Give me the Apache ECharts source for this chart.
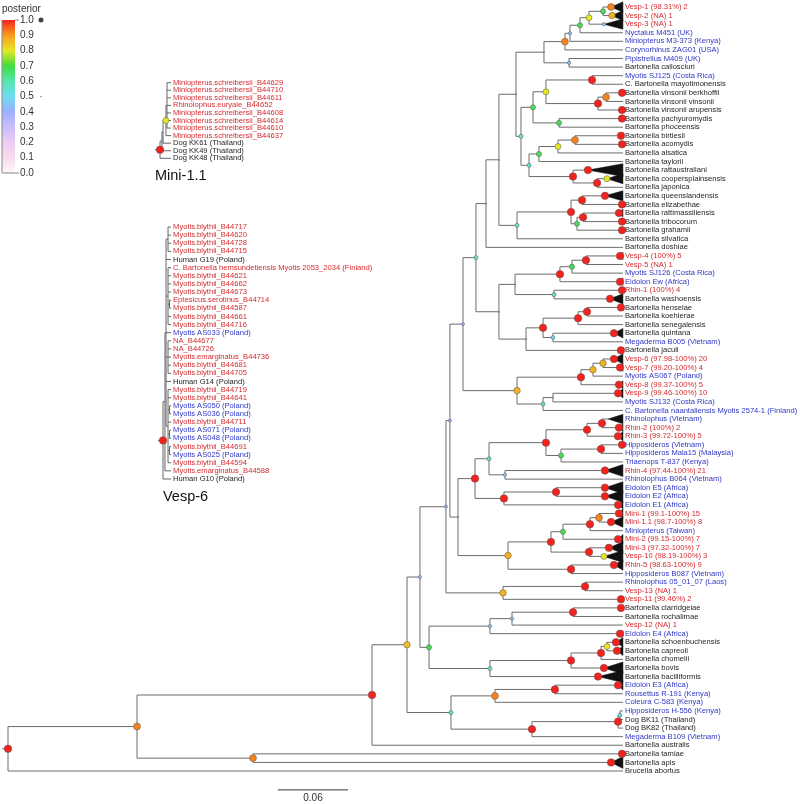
<!DOCTYPE html>
<html><head><meta charset="utf-8">
<script src="https://cdn.jsdelivr.net/npm/echarts@6/dist/echarts.min.js"></script>
<style>html,body{margin:0;padding:0;background:#fff}#c{width:800px;height:804px}</style>
</head><body><div id="c"></div>
<script>
// ---------------- DATA ----------------
const leafNames = [
"Vesp-1 (98.31%) 2","Vesp-2 (NA) 1","Vesp-3 (NA) 1","Nyctalus M451 (UK)","Miniopterus M3-373 (Kenya)",
"Corynorhinus ZAG01 (USA)","Pipistrellus M409 (UK)","Bartonella callosciuri","Myotis SJ125 (Costa Rica)","C. Bartonella mayotimonensis",
"Bartonella vinsonii berkhoffii","Bartonella vinsonii vinsonii","Bartonella vinsonii arupensis","Bartonella pachyuromydis","Bartonella phoceensis",
"Bartonella birtlesii","Bartonella acomydis","Bartonella alsatica","Bartonella taylorii","Bartonella rattaustraliani",
"Bartonella coopersplainsensis","Bartonella japonica","Bartonella queenslandensis","Bartonella elizabethae","Bartonella rattimassiliensis",
"Bartonella tribocorum","Bartonella grahamii","Bartonella silvatica","Bartonella doshiae","Vesp-4 (100%) 5",
"Vesp-5 (NA) 1","Myotis SJ126 (Costa Rica)","Eidolon Ew (Africa)","Rhin-1 (100%) 4","Bartonella washoensis",
"Bartonella henselae","Bartonella koehlerae","Bartonella senegalensis","Bartonella quintana","Megaderma B005 (Vietnam)",
"Bartonella jaculi","Vesp-6 (97.98-100%) 20","Vesp-7 (99.20-100%) 4","Myotis AS067 (Poland)","Vesp-8 (99.37-100%) 5",
"Vesp-9 (99.46-100%) 10","Myotis SJ132 (Costa Rica)","C. Bartonella naantaliensis Myotis 2574-1 (Finland)","Rhinolophus (Vietnam)","Rhin-2 (100%) 2",
"Rhin-3 (99.72-100%) 5","Hipposideros (Vietnam)","Hipposideros Mala15 (Malaysia)","Triaenops T-837 (Kenya)","Rhin-4 (97.44-100%) 21",
"Rhinolophus B064 (Vietnam)","Eidolon E5 (Africa)","Eidolon E2 (Africa)","Eidolon E1 (Africa)","Mini-1 (99.1-100%) 15",
"Mini-1.1 (98.7-100%) 8","Miniopterus (Taiwan)","Mini-2 (99.15-100%) 7","Mini-3 (97.32-100%) 7","Vesp-10 (98.19-100%) 3",
"Rhin-5 (98.63-100%) 9","Hipposideros B087 (Vietnam)","Rhinolophus 05_01_07 (Laos)","Vesp-13 (NA) 1","Vesp-11 (99.46%) 2",
"Bartonella clarridgeiae","Bartonella rochalimae","Vesp-12 (NA) 1","Eidolon E4 (Africa)","Bartonella schoenbuchensis",
"Bartonella capreoli","Bartonella chomelii","Bartonella bovis","Bartonella bacilliformis","Eidolon E3 (Africa)",
"Rousettus R-191 (Kenya)","Coleura C-583 (Kenya)","Hipposideros H-556 (Kenya)","Dog BK11 (Thailand)","Dog BK82 (Thailand)",
"Megaderma B109 (Vietnam)","Bartonella australis","Bartonella tamiae","Bartonella apis","Brucella abortus"];
// r = new genogroup, b = bat-derived reference, k = other reference
const leafGroup = "rrrbbbbkbk"+"kkkkkkkkkk"+"kkkkkkkkkr"+"rbbrkkkkkb"+"krrbrrbbbr"+"rbbbrbbbbr"+"rbrrrrbbrr"+"kkrbkkkkkb"+"bbbkkbkkkk";

// tree: [depth, posterior, children...]; integer = leaf index
const mainTree =
[0, 1,
 [0.1106, 0.92,
  [0.3120, 1,
   [0.3420, 0.85,
    [0.3531, 0.42,
     [0.3754, 0.42,
      [0.3788, 0.4,
       [0.3900, 0.4,
        [0.4011, 0.55,
         [0.4097, 0.2,
          [0.4208, 0.2,
           [0.4354, 0.2,
            [0.4594, 0.2,
             [0.4774, 0.92,
              [0.4817, 0.45,
               [0.4903, 0.68,
                [0.4980, 0.8, [0.5100, 0.68, 0, 1], 2],
                3],
               4],
              5],
             [0.4809, 0.45, 6, 7]],
            [0.4397, 0.55,
             [0.4500, 0.68,
              [0.4611, 0.8,
               [0.5006, 1, 8, 9],
               [0.5057, 1, [0.5126, 0.92, 10, 11], 12]],
              [0.4723, 0.68, 13, 14]],
             [0.4466, 0.55,
              [0.4551, 0.68,
               [0.4714, 0.8, [0.4860, 0.92, 15, 16], 17],
               18],
              [0.4843, 1, 19, [0.5049, 1, 20, 21]]]]],
           [0.4363, 0.55,
            [0.4826, 1,
             [0.4920, 1, 22, 23],
             [0.4877, 0.68, [0.4929, 1, 24, 25], 26]],
            27]],
          28],
         [0.4208, 0.2,
          [0.4346, 0.2,
           [0.4731, 1,
            [0.4834, 0.68, [0.4954, 1, 29, 30], 31],
            32],
           [0.4680, 0.55, 33, 34]],
          [0.4440, 0.2,
           [0.4586, 1,
            [0.4886, 1, [0.4963, 1, 35, 36], 37],
            [0.4671, 0.5, 38, 39]],
           40]]],
        [0.4363, 0.87,
         [0.4911, 1,
          [0.5014, 0.87, [0.5100, 0.87, 41, 42], 43],
          44],
         [0.4586, 0.55, [0.4671, 0.2, 45, 46], 47]]],
       [0.3857, 0.2,
        [0.4003, 1,
         [0.4123, 0.55,
          [0.4611, 1,
           [0.4963, 1, [0.5091, 1, 48, 49], 50],
           [0.4740, 0.68, [0.5083, 1, 51, 52], 53]],
          [0.4260, 0.45, 54, 55]],
         [0.4251, 1, [0.4697, 1, 56, 57], 58]],
        [0.4286, 0.87,
         [0.4654, 1,
          [0.4757, 0.68, [0.4988, 1, [0.5066, 0.92, 59, 60], 61], 62],
          [0.4980, 1, 63, 64]],
         [0.4826, 1, 65, 66]]]],
      [0.4243, 0.87, [0.4946, 1, 67, 68], 69]],
     [0.3609, 0.68,
      [0.4131, 0.45, [0.4320, 0.45, [0.4843, 1, 70, 71], 72], 73],
      [0.4131, 0.55,
       [0.4826, 1, [0.5083, 1, [0.5134, 0.8, 74, 75], 76], 77],
       78]]],
    [0.3797, 0.55,
     [0.4174, 0.92, [0.4688, 1, 79, 80], 81],
     [0.4491, 1, [0.5229, 1, [0.5246, 0.5, 82, 83], 84], 85]]],
   86],
  [0.2100, 0.92, 87, 88]],
 89];
const mainTipDepth = 0.5271;
const mainRootStub = -0.0051;

// collapsed clades: [leaf, clade depth, posterior, clade spread (rows)]
const collapsed = [
[0,0.5169,0.92,0.6],[1,0.5177,0.87,0.6],[2,0.5108,0.45,0.6],[10,0.5263,1,0.35],[12,0.5263,1,0.35],
[13,0.5263,1,0.35],[15,0.5254,1,0.35],[16,0.5263,1,0.35],[19,0.4971,1,0.75],[20,0.5134,0.8,0.6],
[22,0.5117,1,0.6],[23,0.5263,1,0.35],[24,0.5237,1,0.45],[25,0.5263,1,0.35],[26,0.5263,1,0.35],
[29,0.5246,1,0.45],[32,0.5246,1,0.45],[33,0.5263,1,0.35],[34,0.5160,1,0.6],[35,0.5254,1,0.35],
[38,0.5194,1,0.55],[40,0.5254,1,0.35],[41,0.5194,1,0.6],[42,0.5246,1,0.45],[44,0.5237,1,0.45],
[45,0.5229,1,0.55],[48,0.5143,null,0.55],[49,0.5237,1,0.45],[50,0.5229,1,0.55],[51,0.5263,1,0.35],
[54,0.5117,1,0.7],[56,0.5117,1,0.7],[57,0.5117,1,0.7],[58,0.5229,1,0.45],[59,0.5237,1,0.55],
[60,0.5169,1,0.6],[62,0.5229,1,0.55],[63,0.5151,1,0.7],[64,0.5108,0.8,0.7],[65,0.5194,1,0.6],
[69,0.5254,1,0.35],[70,0.5254,1,0.35],[73,0.5246,1,0.35],[74,0.5211,1,0.55],[75,0.5220,1,0.55],
[77,0.5108,1,0.7],[78,0.5057,1,0.7],[79,0.5229,1,0.55],[87,0.5263,1,0.35],[88,0.5169,1,0.7]];

// inset Mini-1.1
const miniNames = ["Miniopterus.schreibersii_B44629","Miniopterus.schreibersii_B44710","Miniopterus.schreibersii_B44611",
"Rhinolophus.euryale_B44652","Miniopterus.schreibersii_B44608","Miniopterus.schreibersii_B44614","Miniopterus.schreibersii_B44610",
"Miniopterus.schreibersii_B44637","Dog KK61 (Thailand)","Dog KK49 (Thailand)","Dog KK48 (Thailand)"];
const miniGroup = "rrrrrrrrkkk";
const miniTree = [0, 1, [0.0017, 0.35, [0.0026, null, [0.0051, 0.8, [0.006, null, 0,1,2,3,4,5,6], 7], 8], 9], 10];
const miniTipDepth = 0.0094;

// inset Vesp-6
const vespNames = ["Myotis.blythii_B44717","Myotis.blythii_B44620","Myotis.blythii_B44728","Myotis.blythii_B44715",
"Human G19 (Poland)","C. Bartonella hemsundetiensis Myotis 2053_2034 (Finland)","Myotis.blythii_B44621","Myotis.blythii_B44662",
"Myotis.blythii_B44673","Eptesicus.serotinus_B44714","Myotis.blythii_B44587","Myotis.blythii_B44661","Myotis.blythii_B44716",
"Myotis AS033 (Poland)","NA_B44677","NA_B44726","Myotis.emarginatus_B44736","Myotis.blythii_B44681","Myotis.blythii_B44705",
"Human G14 (Poland)","Myotis.blythii_B44719","Myotis.blythii_B44641","Myotis AS050 (Poland)","Myotis AS036 (Poland)",
"Myotis.blythii_B44711","Myotis AS071 (Poland)","Myotis AS048 (Poland)","Myotis.blythii_B44691","Myotis AS025 (Poland)",
"Myotis.blythii_B44594","Myotis.emarginatus_B44588","Human G10 (Poland)"];
const vespGroup = "rrrrkrrrrrrrrbrrrrrkrrbbrbbrbrrk";
const vespTree = [0, 1,
 [0.0017, null,
  [0.0026, null,
   [0.0043, null, 0, 1, 2, 3],
   4,
   [0.0043, null, 5, 6, 7, 8, [0.0056, null, 9, 10], 11, 12],
   13,
   [0.0043, null, 14, 15, 16, 17, 18],
   19,
   [0.0043, null, 20, 21, [0.0056, null, 22, 23], 24, [0.0056, null, 25, 26], [0.0056, null, 27, 28], 29]],
  30],
 31];
const vespTipDepth = 0.0069;
const insetStub = -0.0043;

const scaleBarStart = 0.2314, scaleBarLength = 0.06;
const posteriorColors = ['#fdf6f9','#f8dbec','#eccdf4','#c9bdfc','#9cb0fd','#6fdcf3','#55e6ad','#40dd40','#e6e824','#f99c1e','#f5211c'];

// ---------------- LAYOUT ----------------
function layoutTree(tree, tip, stub, coll) {
  const segs = [], nodes = [], wedges = [];
  const cmap = {}; (coll || []).forEach(c => cmap[c[0]] = c);
  function walk(n, pd) {
    if (typeof n === 'number') {
      const c = cmap[n];
      if (c) {
        segs.push([pd, n, c[1], n]);
        wedges.push([c[1], n, tip, c[3]]);
        if (c[2] != null) nodes.push([c[1], n, c[2]]);
      } else segs.push([pd, n, tip, n]);
      return n;
    }
    const d = n[0], p = n[1], kids = n.slice(2);
    const ys = kids.map(k => walk(k, d));
    const y = (ys[0] + ys[ys.length - 1]) / 2;
    segs.push([d, ys[0], d, ys[ys.length - 1]]);
    segs.push([pd, y, d, y]);
    if (p != null) nodes.push([d, y, p]);
    return y;
  }
  walk(tree, stub);
  return {segs, nodes, wedges};
}
const FONT = '"Liberation Sans", Arial, sans-serif';
const GC = {r: '#d52a2e', b: '#2f37c6', k: '#1e1e1e'};
const main = layoutTree(mainTree, mainTipDepth, mainRootStub, collapsed);
const mini = layoutTree(miniTree, miniTipDepth, insetStub, []);
const vesp = layoutTree(vespTree, vespTipDepth, insetStub, []);

function segSeries(data, gi, color) {
  return {type: 'custom', xAxisIndex: gi, yAxisIndex: gi, clip: false, z: 1, data,
    renderItem: (params, api) => {
      const a = api.coord([api.value(0), api.value(1)]), b = api.coord([api.value(2), api.value(3)]);
      return {type: 'line', shape: {x1: a[0], y1: a[1], x2: b[0], y2: b[1]}, style: {stroke: color, lineWidth: 1}};
    }};
}
function wedgeSeries(data, gi) {
  return {type: 'custom', xAxisIndex: gi, yAxisIndex: gi, clip: false, z: 2, data,
    renderItem: (params, api) => {
      const a = api.coord([api.value(0), api.value(1)]);
      const b = api.coord([api.value(2), api.value(1) - api.value(3)]);
      const c = api.coord([api.value(2), api.value(1) + api.value(3)]);
      return {type: 'polygon', shape: {points: [a, b, c]}, style: {fill: '#111', stroke: '#111', lineWidth: 0.5}};
    }};
}
function nodeSeries(data, gi) {
  return {type: 'scatter', xAxisIndex: gi, yAxisIndex: gi, clip: false, z: 3, data, symbol: 'circle',
    itemStyle: {borderColor: '#555', borderWidth: 0.5, opacity: 1}, emphasis: {disabled: true}};
}
function labelSeries(names, groups, tip, gi) {
  return {type: 'custom', xAxisIndex: gi, yAxisIndex: gi, clip: false, z: 4,
    data: names.map((n, i) => [tip, i]),
    renderItem: (params, api) => {
      const i = params.dataIndex;
      const p = api.coord([api.value(0), api.value(1)]);
      return {type: 'text', x: p[0] + 2, y: p[1],
        style: {text: names[i], fill: GC[groups[i]], fontSize: 7.6, fontFamily: FONT, verticalAlign: 'middle', align: 'left'}};
    }};
}
const hidden = (min, max, extra) => Object.assign({type: 'value', min, max, show: false, splitLine: {show: false}}, extra || {});

const option = {
  animation: false,
  backgroundColor: '#fff',
  grid: [
    {left: 8, top: 7, width: 700, height: 764},
    {left: 160, top: 82.7, width: 116.67, height: 75.6},
    {left: 163, top: 227, width: 116.67, height: 252},
    {left: 2, top: 20, width: 13, height: 153}
  ],
  xAxis: [hidden(0, 0.6, {gridIndex: 0}), hidden(0, 0.1, {gridIndex: 1}), hidden(0, 0.1, {gridIndex: 2}), hidden(0, 1, {gridIndex: 3})],
  yAxis: [
    hidden(0, 89, {gridIndex: 0, inverse: true}),
    hidden(0, 10, {gridIndex: 1, inverse: true}),
    hidden(0, 31, {gridIndex: 2, inverse: true}),
    {type: 'value', gridIndex: 3, min: 0, max: 1, interval: 0.1, position: 'right',
     axisLine: {show: false}, axisTick: {show: false}, splitLine: {show: false},
     axisLabel: {margin: 5, fontSize: 10, color: '#333', fontFamily: FONT, formatter: v => v.toFixed(1)}}
  ],
  visualMap: {type: 'continuous', show: false, min: 0, max: 1, dimension: 2, seriesIndex: [2, 7, 11],
    inRange: {color: posteriorColors, symbolSize: [0, 7.5]}},
  graphic: [
    {type: 'text', left: 2, top: 4, style: {text: 'posterior', fontSize: 10, fontFamily: FONT, fill: '#333'}},
    {type: 'text', left: 155, top: 168, style: {text: 'Mini-1.1', fontSize: 14.5, fontFamily: FONT, fill: '#111'}},
    {type: 'text', left: 163, top: 489, style: {text: 'Vesp-6', fontSize: 14.5, fontFamily: FONT, fill: '#111'}}
  ],
  series: [
    segSeries(main.segs, 0, '#6c6c6c'),       // 0
    wedgeSeries(main.wedges, 0),              // 1
    nodeSeries(main.nodes, 0),                // 2
    labelSeries(leafNames, leafGroup, mainTipDepth, 0), // 3
    {type: 'custom', xAxisIndex: 0, yAxisIndex: 0, clip: false, z: 4, data: [[scaleBarStart, scaleBarLength]],
     renderItem: (params, api) => {
       const a = api.coord([api.value(0), 91.2]), b = api.coord([api.value(0) + api.value(1), 91.2]);
       return {type: 'group', children: [
         {type: 'line', shape: {x1: a[0], y1: a[1], x2: b[0], y2: b[1]}, style: {stroke: '#333', lineWidth: 1}},
         {type: 'text', x: (a[0] + b[0]) / 2, y: a[1] + 8, style: {text: String(api.value(1)), fontSize: 10, fontFamily: FONT, fill: '#333', align: 'center', verticalAlign: 'middle'}}
       ]};
     }},                                      // 4
    segSeries(mini.segs, 1, '#666'),          // 5
    labelSeries(miniNames, miniGroup, miniTipDepth, 1), // 6
    nodeSeries(mini.nodes, 1),                // 7
    segSeries(vesp.segs, 2, '#666'),          // 8
    labelSeries(vespNames, vespGroup, vespTipDepth, 2), // 9
    {type: 'custom', xAxisIndex: 3, yAxisIndex: 3, clip: false, z: 1, data: [[0, 1]],
     renderItem: (params, api) => {
       const tl = api.coord([0, 1]), br = api.coord([1, 0]);
       const stops = posteriorColors.map((c, i) => ({offset: 1 - i / (posteriorColors.length - 1), color: c}));
       stops.sort((p, q) => p.offset - q.offset);
       return {type: 'group', children: [
         {type: 'rect', shape: {x: tl[0], y: tl[1], width: br[0] - tl[0], height: br[1] - tl[1]},
          style: {fill: new echarts.graphic.LinearGradient(0, 0, 0, 1, stops)}},
         {type: 'line', shape: {x1: tl[0], y1: tl[1], x2: tl[0], y2: br[1]}, style: {stroke: '#888', lineWidth: 1}},
         {type: 'line', shape: {x1: tl[0], y1: br[1], x2: br[0] + 4, y2: br[1]}, style: {stroke: '#888', lineWidth: 1}},
         {type: 'line', shape: {x1: br[0], y1: tl[1], x2: br[0] + 4, y2: tl[1]}, style: {stroke: '#888', lineWidth: 1}}
       ]};
     }},                                      // 10
    nodeSeries(vesp.nodes, 2),                // 11
    {type: 'scatter', xAxisIndex: 3, yAxisIndex: 3, clip: false, z: 3, symbol: 'circle',
     data: [[3.0, 1, 1], [3.0, 0.5, 0.5]], symbolSize: v => v[2] * v[2] * 5,
     itemStyle: {color: '#111'}}             // 12
  ]
};
echarts.init(document.getElementById('c'), null, {renderer: 'canvas'}).setOption(option);
</script>
</body></html>
